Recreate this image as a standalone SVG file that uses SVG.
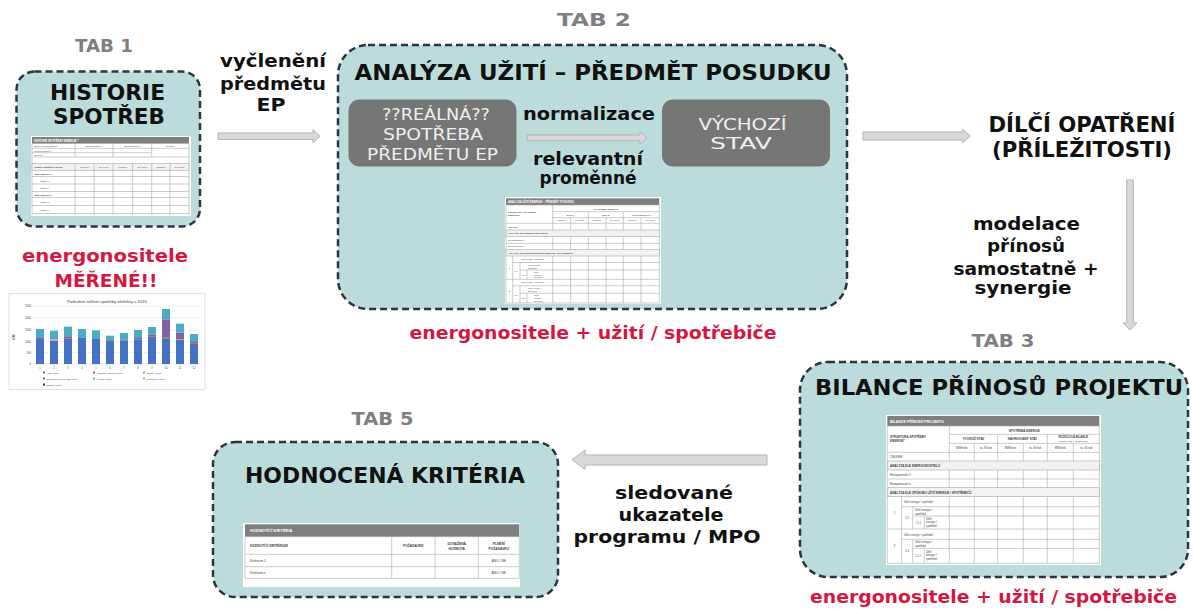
<svg xmlns="http://www.w3.org/2000/svg" width="1193" height="609" viewBox="0 0 1193 609">
<style>
.box{fill:#bcdcdb;stroke:#2b3442;stroke-width:2.5;stroke-dasharray:7 4}
.tab{font-family:'DejaVu Sans',sans-serif;font-weight:bold;font-size:17px;fill:#7f7f7f;text-anchor:middle}
.title{font-family:'DejaVu Sans',sans-serif;font-weight:bold;font-size:21px;fill:#111;text-anchor:middle}
.lbl{font-family:'DejaVu Sans',sans-serif;font-weight:bold;font-size:17px;fill:#111;text-anchor:middle}
.red{font-family:'DejaVu Sans',sans-serif;font-weight:bold;font-size:17px;fill:#d5173f;text-anchor:middle}
.gbox{fill:#767676}
.gtxt{font-family:'DejaVu Sans',sans-serif;font-size:15px;fill:#efefef;text-anchor:middle}
.arr{fill:#d9d9d9;stroke:#b3b3b3;stroke-width:1}
.tw{fill:#fff}
.th{fill:#7f7f7f}
.tl{stroke:#a8a8a8;stroke-width:0.6;fill:none}
.ts{fill:#f2f2f2;stroke:#a8a8a8;stroke-width:0.6}
.tt{font-family:'Liberation Sans',sans-serif;fill:#404040}
.tb{font-family:'Liberation Sans',sans-serif;fill:#404040;font-weight:bold}
.th2{font-family:'Liberation Sans',sans-serif;fill:#fff;font-weight:bold}
.c{text-anchor:middle}
</style>

<!-- TAB 1 -->
<g id="tab1">
  <text class="tab" x="104" y="52" textLength="58" lengthAdjust="spacingAndGlyphs">TAB 1</text>
  <rect class="box" x="16.5" y="71.5" width="183.5" height="155" rx="18"/>
  <text class="title" x="107.5" y="99.5" textLength="115" lengthAdjust="spacingAndGlyphs">HISTORIE</text>
  <text class="title" x="109" y="123.5" textLength="112" lengthAdjust="spacingAndGlyphs">SPOTŘEB</text>
  <g id="tab1-table">
    <rect class="tw" x="31" y="136" width="160" height="80"/>
    <rect class="th" x="32" y="137" width="157" height="6.5"/>
    <text class="th2" x="34" y="141.7" font-size="2.8">HISTORIE SPOTŘEBY ENERGIE *</text>
    <path class="tl" d="M32,143.5H189M32,148.3H189M32,152.7H151.7M32,157H189M75,143.5V157M113,143.5V157M151.7,143.5V157M32,143.5V215M189,143.5V215"/>
    <text class="tt" x="34" y="147" font-size="2.4">Název energonositele</text>
    <text class="tt c" x="94" y="147" font-size="2.4">Energonositel X</text>
    <text class="tt c" x="132.4" y="147" font-size="2.4">Energonositel X</text>
    <text class="tt c" x="170.4" y="147" font-size="2.4">Celkem</text>
    <text class="tt" x="34" y="151.5" font-size="2.4">Cenová úroveň *</text>
    <text class="tt" x="34" y="155.8" font-size="2.4">Ocenění</text>
    <text class="tt c" x="170.4" y="153.5" font-size="2.4">—</text>
    <rect class="ts" x="32" y="163.5" width="157" height="7"/>
    <path class="tl" d="M75,163.5V215M94,163.5V215M113,163.5V215M132.7,163.5V215M151.7,163.5V215M170,163.5V215M32,176.5H189M32,184H189M32,191.5H189M32,197.5H189M32,205.5H189M32,213.5H189"/>
    <text class="tb" x="34" y="168" font-size="2.4">Historie spotřeby energie</text>
    <text class="tt c" x="84.5" y="168" font-size="2.2">MWh/rok</text>
    <text class="tt c" x="103.5" y="168" font-size="2.2">tis. Kč/rok</text>
    <text class="tt c" x="122.8" y="168" font-size="2.2">MWh/rok</text>
    <text class="tt c" x="142.2" y="168" font-size="2.2">tis. Kč/rok</text>
    <text class="tt c" x="160.8" y="168" font-size="2.2">MWh/rok</text>
    <text class="tt c" x="179.5" y="168" font-size="2.2">tis. Kč/rok</text>
    <text class="tb" x="34" y="174.5" font-size="2.4">OBDOBÍ/ROK 1</text>
    <text class="tt" x="40" y="181.5" font-size="2.4">období 1</text>
    <text class="tt" x="40" y="189" font-size="2.4">období x</text>
    <text class="tb" x="34" y="195.5" font-size="2.4">OBDOBÍ/ROK 2</text>
    <text class="tt" x="40" y="203" font-size="2.4">období 1</text>
    <text class="tt" x="40" y="211" font-size="2.4">období x</text>
  </g>
  <text class="red" x="105" y="262" textLength="166" lengthAdjust="spacingAndGlyphs">energonositele</text>
  <text class="red" x="106" y="287" textLength="103" lengthAdjust="spacingAndGlyphs">MĚŘENÉ!!</text>
</g>

<!-- chart -->
<g id="chart-spotreba">
  <rect x="9" y="293.5" width="196" height="96" fill="#fff" stroke="#d9d9d9" stroke-width="0.8"/>
  <text class="tt c" x="107" y="303" font-size="4.2" fill="#595959">Podružné měření spotřeby elektřiny v 2015</text>
  <path stroke="#e3e3e3" stroke-width="0.5" d="M34,306H200M34,318H200M34,330H200M34,341.5H200M34,352.5H200"/>
  <path stroke="#bfbfbf" stroke-width="0.5" d="M34,364H200"/>
  <g class="tt" font-size="2.6" text-anchor="end">
    <text x="31" y="307">2500</text><text x="31" y="319">2000</text><text x="31" y="331">1500</text>
    <text x="31" y="342.5">1000</text><text x="31" y="353.5">500</text><text x="31" y="365">0</text>
  </g>
  <text class="tt" font-size="2.6" transform="translate(14.5,337) rotate(-90)" text-anchor="middle">MWh</text>
  <g id="bars">
    <rect x="36" y="340" width="8" height="24" fill="#4472c4"/><rect x="36" y="338" width="8" height="2" fill="#8064a2"/><rect x="36" y="329" width="8" height="9" fill="#4bacc6"/>
    <rect x="50" y="340.7" width="8" height="23.3" fill="#4472c4"/><rect x="50" y="339.3" width="8" height="1.4" fill="#f79646"/><rect x="50" y="330.7" width="8" height="8.6" fill="#4bacc6"/>
    <rect x="64" y="338.3" width="8" height="25.7" fill="#4472c4"/><rect x="64" y="337" width="8" height="1.3" fill="#c0504d"/><rect x="64" y="326.7" width="8" height="10.3" fill="#4bacc6"/>
    <rect x="78" y="337.3" width="8" height="26.7" fill="#4472c4"/><rect x="78" y="329" width="8" height="8.3" fill="#4bacc6"/>
    <rect x="92" y="339" width="8" height="25" fill="#4472c4"/><rect x="92" y="330.3" width="8" height="8.7" fill="#4bacc6"/>
    <rect x="106" y="342" width="8" height="22" fill="#4472c4"/><rect x="106" y="341" width="8" height="1" fill="#c0504d"/><rect x="106" y="335.7" width="8" height="5.3" fill="#4bacc6"/>
    <rect x="120" y="340.7" width="8" height="23.3" fill="#4472c4"/><rect x="120" y="339.3" width="8" height="1.4" fill="#8064a2"/><rect x="120" y="333" width="8" height="6.3" fill="#4bacc6"/>
    <rect x="134" y="339.3" width="8" height="24.7" fill="#4472c4"/><rect x="134" y="338" width="8" height="1.3" fill="#8064a2"/><rect x="134" y="330" width="8" height="8" fill="#4bacc6"/>
    <rect x="148" y="336.7" width="8" height="27.3" fill="#4472c4"/><rect x="148" y="335" width="8" height="1.7" fill="#c0504d"/><rect x="148" y="327" width="8" height="8" fill="#4bacc6"/>
    <rect x="162" y="338.3" width="8" height="25.7" fill="#4472c4"/><rect x="162" y="337.3" width="8" height="1" fill="#c0504d"/><rect x="162" y="319.3" width="8" height="18" fill="#8064a2"/><rect x="162" y="309" width="8" height="10.3" fill="#4bacc6"/>
    <rect x="176" y="340" width="8" height="24" fill="#4472c4"/><rect x="176" y="339" width="8" height="1" fill="#f79646"/><rect x="176" y="332.7" width="8" height="6.3" fill="#8064a2"/><rect x="176" y="323.7" width="8" height="9" fill="#4bacc6"/>
    <rect x="190" y="343.3" width="8" height="20.7" fill="#4472c4"/><rect x="190" y="342" width="8" height="1.3" fill="#c0504d"/><rect x="190" y="334" width="8" height="8" fill="#4bacc6"/>
  </g>
  <g class="tt c" font-size="2.6">
    <text x="40" y="369">1</text><text x="54" y="369">2</text><text x="68" y="369">3</text><text x="82" y="369">4</text>
    <text x="96" y="369">5</text><text x="110" y="369">6</text><text x="124" y="369">7</text><text x="138" y="369">8</text>
    <text x="152" y="369">9</text><text x="166" y="369">10</text><text x="180" y="369">11</text><text x="194" y="369">12</text>
  </g>
  <g class="tt" font-size="2.4">
    <rect x="43" y="371.5" width="2" height="2" fill="#4472c4"/><text x="46.5" y="373.5">VRS (MWh)</text>
    <rect x="93" y="371.5" width="2" height="2" fill="#c0504d"/><text x="96.5" y="373.5">Administr. budova (MWh)</text>
    <rect x="143" y="371.5" width="2" height="2" fill="#9bbb59"/><text x="146.5" y="373.5">Sklady (MWh)</text>
    <rect x="43" y="377.5" width="2" height="2" fill="#8064a2"/><text x="46.5" y="379.5">Dodávka pro LCC+ES (MWh)</text>
    <rect x="93" y="377.5" width="2" height="2" fill="#4bacc6"/><text x="96.5" y="379.5">Výroba (MWh)</text>
    <rect x="143" y="377.5" width="2" height="2" fill="#f79646"/><text x="146.5" y="379.5">Předávání (MWh)</text>
    <rect x="43" y="383.5" width="2" height="2" fill="#1f3864"/><text x="46.5" y="385.5">Ostatní (MWh)</text>
  </g>
</g>

<!-- TAB 2 -->
<g id="tab2">
  <text class="tab" x="594" y="26" textLength="74" lengthAdjust="spacingAndGlyphs">TAB 2</text>
  <rect class="box" x="338" y="45" width="509" height="264" rx="30"/>
  <text class="title" x="593" y="80" textLength="477" lengthAdjust="spacingAndGlyphs">ANALÝZA UŽITÍ – PŘEDMĚT POSUDKU</text>
  <g id="tab2-table">
    <rect class="tw" x="505" y="197" width="156" height="107"/>
    <rect class="th" x="506" y="198.3" width="153.3" height="6.7"/>
    <text class="th2" x="508" y="202.8" font-size="2.8">ANALÝZA UŽITÍ ENERGIE – PŘEDMĚT POSUDKU</text>
    <path class="tl" d="M506,205V303M659.3,205V303M552.7,205V303M588.3,211.7V303M623.3,211.7V303M570.7,217.7V303M606,217.7V303M641,217.7V303M552.7,211.7H659.3M552.7,217.7H659.3M506,205H659.3M506,223.3H659.3M506,243.3H659.3M506,303H659.3"/>
    <text class="tb" x="508" y="212.5" font-size="2.4">STRUKTURA SPOTŘEBY</text>
    <text class="tb" x="508" y="215.5" font-size="2.4">ENERGIE*</text>
    <text class="tb c" x="606" y="209.5" font-size="2.4">SPOTŘEBA ENERGIE</text>
    <text class="tb c" x="570.5" y="215.5" font-size="2.4">ROK 1</text>
    <text class="tb c" x="605.8" y="215.5" font-size="2.4">ROK 2</text>
    <text class="tb c" x="641.3" y="215.5" font-size="2.4">VÝCHOZÍ STAV ?</text>
    <g class="tt c" font-size="2.1">
      <text x="561.7" y="221.3">MWh/rok</text><text x="579.5" y="221.3">tis. Kč/rok</text>
      <text x="597.2" y="221.3">MWh/rok</text><text x="614.7" y="221.3">tis. Kč/rok</text>
      <text x="632.2" y="221.3">MWh/rok</text><text x="650.2" y="221.3">tis. Kč/rok</text>
    </g>
    <text class="tt" x="508" y="227.5" font-size="2.4">CELKEM</text>
    <rect class="ts" x="506" y="230" width="153.3" height="6.7"/>
    <text class="tb" x="508" y="234.3" font-size="2.4">ANALÝZA DLE ENERGONOSITELŮ</text>
    <text class="tt" x="508" y="241" font-size="2.4">Energonositel 1</text>
    <text class="tt" x="508" y="247.3" font-size="2.4">Energonositel x</text>
    <rect class="ts" x="506" y="249.3" width="153.3" height="6.7"/>
    <text class="tb" x="508" y="253.6" font-size="2.4">ANALÝZA DLE ZPŮSOBU UŽITÍ ENERGIE / SPOTŘEBIČŮ</text>
    <g id="tab2-item1">
      <path class="tl" d="M512.7,256V279.3M520,262.5V279.3M527,270V279.3M512.7,262.5H659.3M520,270H659.3M506,279.3H659.3"/>
      <text class="tt c" x="509.3" y="268.5" font-size="2.4">1</text>
      <text class="tt" x="521" y="260" font-size="2.2">Užití energie / spotřebič</text>
      <text class="tt c" x="516.3" y="272" font-size="2.2">1.1</text>
      <text class="tt" x="528" y="265.5" font-size="2.2">Užití energie /</text>
      <text class="tt" x="528" y="268.5" font-size="2.2">spotřebič</text>
      <text class="tt c" x="523.5" y="275.5" font-size="2">1.1.1</text>
      <text class="tt" x="534" y="272.8" font-size="2.2">Užití</text>
      <text class="tt" x="534" y="275.5" font-size="2.2">energie /</text>
      <text class="tt" x="534" y="278.2" font-size="2.2">spotřebič</text>
    </g>
    <g id="tab2-item2">
      <path class="tl" d="M512.7,279.3V303M520,285.8V303M527,293.3V303M512.7,285.8H659.3M520,293.3H659.3"/>
      <text class="tt c" x="509.3" y="292" font-size="2.4">2</text>
      <text class="tt" x="521" y="283.3" font-size="2.2">Užití energie / spotřebič</text>
      <text class="tt c" x="516.3" y="295.5" font-size="2.2">2.1</text>
      <text class="tt" x="528" y="288.8" font-size="2.2">Užití energie /</text>
      <text class="tt" x="528" y="291.8" font-size="2.2">spotřebič</text>
      <text class="tt c" x="523.5" y="299" font-size="2">2.1.1</text>
      <text class="tt" x="534" y="296.3" font-size="2.2">Užití</text>
      <text class="tt" x="534" y="299" font-size="2.2">energie /</text>
      <text class="tt" x="534" y="301.7" font-size="2.2">spotřebič</text>
    </g>
  </g>
</g>
<g id="tab2-realna">
  <rect class="gbox" x="348.5" y="99.5" width="168" height="67" rx="11"/>
  <text class="gtxt" x="436" y="120" textLength="108" lengthAdjust="spacingAndGlyphs">??REÁLNÁ??</text>
  <text class="gtxt" x="433" y="140" textLength="100" lengthAdjust="spacingAndGlyphs">SPOTŘEBA</text>
  <text class="gtxt" x="432.5" y="160" textLength="131" lengthAdjust="spacingAndGlyphs">PŘEDMĚTU EP</text>
</g>
<g id="tab2-vychozi">
  <rect class="gbox" x="662" y="99.5" width="168" height="67" rx="11"/>
  <text class="gtxt" x="742.5" y="130" textLength="88" lengthAdjust="spacingAndGlyphs">VÝCHOZÍ</text>
  <text class="gtxt" x="741" y="148.5" textLength="62" lengthAdjust="spacingAndGlyphs">STAV</text>
</g>
<text class="red" x="593" y="339" textLength="367" lengthAdjust="spacingAndGlyphs">energonositele + užití / spotřebiče</text>

<!-- Dílčí opatření -->
<g id="opatreni">
  <text class="title" x="1082" y="131.5" textLength="187" lengthAdjust="spacingAndGlyphs">DÍLČÍ OPATŘENÍ</text>
  <text class="title" x="1082" y="156.5" textLength="180" lengthAdjust="spacingAndGlyphs">(PŘÍLEŽITOSTI)</text>
</g>

<!-- TAB 3 -->
<g id="tab3">
  <text class="tab" x="1003" y="346.5" textLength="63" lengthAdjust="spacingAndGlyphs">TAB 3</text>
  <rect class="box" x="800" y="362" width="388" height="215" rx="28"/>
  <text class="title" x="999" y="395" textLength="368" lengthAdjust="spacingAndGlyphs">BILANCE PŘÍNOSŮ PROJEKTU</text>
  <g id="tab3-table">
    <rect class="tw" x="886" y="415" width="215" height="150"/>
    <rect class="th" x="887.3" y="416" width="212" height="10"/>
    <text class="th2" x="890" y="422.5" font-size="3.6">BILANCE PŘÍNOSŮ PROJEKTU</text>
    <path class="tl" d="M887.3,426V563.3M1099.3,426V563.3M949.3,426V563.3M997.7,434.3V563.3M1047.3,434.3V563.3M974.3,443.3V563.3M1023.3,443.3V563.3M1073.3,443.3V563.3M949.3,434.3H1099.3M949.3,443.3H1099.3M887.3,426H1099.3M887.3,452.3H1099.3M887.3,479H1099.3M887.3,563.3H1099.3"/>
    <text class="tb" x="890" y="438" font-size="3">STRUKTURA SPOTŘEBY</text>
    <text class="tb" x="890" y="442" font-size="3">ENERGIE*</text>
    <text class="tb c" x="1024.3" y="431.5" font-size="3">SPOTŘEBA ENERGIE</text>
    <text class="tb c" x="973.5" y="440" font-size="3">VÝCHOZÍ STAV</text>
    <text class="tb c" x="1022.5" y="440" font-size="3">NÁVRHOVANÝ STAV</text>
    <text class="tb c" x="1073.3" y="438.3" font-size="2.8">ROZDÍLOVÁ BILANCE</text>
    <text class="tt c" x="1073.3" y="441.6" font-size="2.2">(návrhový stav – výchozí stav)</text>
    <g class="tt c" font-size="2.8">
      <text x="961.8" y="449">MWh/rok</text><text x="986" y="449">tis. Kč/rok</text>
      <text x="1010.5" y="449">MWh/rok</text><text x="1035.3" y="449">tis. Kč/rok</text>
      <text x="1060.3" y="449">MWh/rok</text><text x="1086.3" y="449">tis. Kč/rok</text>
    </g>
    <text class="tt" x="890" y="458" font-size="3">CELKEM</text>
    <rect class="ts" x="887.3" y="461" width="212" height="9"/>
    <text class="tb" x="890" y="466.8" font-size="3">ANALÝZA DLE ENERGONOSITELŮ</text>
    <text class="tt" x="890" y="476" font-size="3">Energonositel 1</text>
    <text class="tt" x="890" y="484.6" font-size="3">Energonositel x</text>
    <rect class="ts" x="887.3" y="487.7" width="212" height="9"/>
    <text class="tb" x="890" y="493.5" font-size="3">ANALÝZA DLE ZPŮSOBU UŽITÍ ENERGIE / SPOTŘEBIČŮ</text>
    <g id="tab3-item1">
      <path class="tl" d="M901.7,496.7V529M912.7,506.7V529M924.3,516V529M901.7,506.7H1099.3M912.7,516H1099.3M887.3,529H1099.3"/>
      <text class="tt c" x="894.5" y="514" font-size="3">1</text>
      <text class="tt" x="904" y="503" font-size="2.8">Užití energie / spotřebič</text>
      <text class="tt c" x="907.2" y="519" font-size="2.8">1.1</text>
      <text class="tt" x="915" y="510.8" font-size="2.8">Užití energie /</text>
      <text class="tt" x="915" y="514.5" font-size="2.8">spotřebič</text>
      <text class="tt c" x="918.5" y="523.5" font-size="2.6">1.1.1</text>
      <text class="tt" x="926" y="519.8" font-size="2.8">Užití</text>
      <text class="tt" x="926" y="523.3" font-size="2.8">energie /</text>
      <text class="tt" x="926" y="526.8" font-size="2.8">spotřebič</text>
    </g>
    <g id="tab3-item2">
      <path class="tl" d="M901.7,529V563.3M912.7,539.3V563.3M924.3,548.3V563.3M901.7,539.3H1099.3M912.7,548.3H1099.3"/>
      <text class="tt c" x="894.5" y="547" font-size="3">2</text>
      <text class="tt" x="904" y="535.5" font-size="2.8">Užití energie / spotřebič</text>
      <text class="tt c" x="907.2" y="552" font-size="2.8">2.1</text>
      <text class="tt" x="915" y="543.3" font-size="2.8">Užití energie /</text>
      <text class="tt" x="915" y="547" font-size="2.8">spotřebič</text>
      <text class="tt c" x="918.5" y="556.5" font-size="2.6">2.1.1</text>
      <text class="tt" x="926" y="552.5" font-size="2.8">Užití</text>
      <text class="tt" x="926" y="556" font-size="2.8">energie /</text>
      <text class="tt" x="926" y="559.5" font-size="2.8">spotřebič</text>
    </g>
  </g>
</g>
<text class="red" x="993.5" y="603" textLength="367" lengthAdjust="spacingAndGlyphs">energonositele + užití / spotřebiče</text>

<!-- TAB 5 -->
<g id="tab5">
  <text class="tab" x="382.5" y="425" textLength="62" lengthAdjust="spacingAndGlyphs">TAB 5</text>
  <rect class="box" x="213" y="442" width="345" height="155" rx="22"/>
  <text class="title" x="385" y="483" textLength="280" lengthAdjust="spacingAndGlyphs">HODNOCENÁ KRITÉRIA</text>
  <g id="tab5-table">
    <rect class="tw" x="243" y="523" width="277" height="64"/>
    <rect class="th" x="245" y="524.3" width="274.3" height="12.4"/>
    <text class="th2" x="250" y="532.3" font-size="4">HODNOTÍCÍ KRITÉRIA</text>
    <path class="tl" d="M245,536.7H519.3V578.3H245ZM245,554.3H519.3M245,566.7H519.3M391.7,536.7V578.3M435,536.7V578.3M478.3,536.7V578.3"/>
    <text class="tb" x="250" y="547" font-size="3.3">HODNOTÍCÍ KRITÉRIUM</text>
    <text class="tb c" x="413.3" y="547" font-size="3.3">POŽADAVEK</text>
    <text class="tb c" x="456.7" y="544.5" font-size="3.3">DOSAŽENÁ</text>
    <text class="tb c" x="456.7" y="549.5" font-size="3.3">HODNOTA</text>
    <text class="tb c" x="498.8" y="544.5" font-size="3.3">PLNĚNÍ</text>
    <text class="tb c" x="498.8" y="549.5" font-size="3.3">POŽADAVKU</text>
    <text class="tt" x="250" y="561.8" font-size="3.3">Kritérium 1</text>
    <text class="tt c" x="498.8" y="561.8" font-size="3.3">ANO / NE</text>
    <text class="tt" x="250" y="573.8" font-size="3.3">Kritérium x</text>
    <text class="tt c" x="498.8" y="573.8" font-size="3.3">ANO / NE</text>
  </g>
</g>

<!-- connectors -->
<g id="connectors">
  <path class="arr" d="M218,133H313V129.5L320,136.3L313,143V139.5H218Z"/>
  <path class="arr" d="M527,135H640V131.7L647,137.8L640,144V140.7H527Z"/>
  <path class="arr" d="M863,132H963V129.3L970,136L963,142.7V140H863Z"/>
  <path class="arr" d="M1126.7,180V323H1123L1130,330L1137,323H1133.3V180Z"/>
  <path class="arr" d="M767,455H585V450L572,459.7L585,469.3V465H767Z"/>
  <g id="connector-labels">
    <text class="lbl" x="273" y="67" textLength="106" lengthAdjust="spacingAndGlyphs">vyčlenění</text>
    <text class="lbl" x="273" y="89.5" textLength="106" lengthAdjust="spacingAndGlyphs">předmětu</text>
    <text class="lbl" x="271" y="111" textLength="29" lengthAdjust="spacingAndGlyphs">EP</text>
    <text class="lbl" x="589" y="120" textLength="132" lengthAdjust="spacingAndGlyphs">normalizace</text>
    <text class="lbl" x="588" y="165" textLength="110" lengthAdjust="spacingAndGlyphs">relevantní</text>
    <text class="lbl" x="588" y="183.5" textLength="97" lengthAdjust="spacingAndGlyphs">proměnné</text>
    <text class="lbl" x="1026.5" y="230" textLength="107" lengthAdjust="spacingAndGlyphs">modelace</text>
    <text class="lbl" x="1026" y="251.5" textLength="78" lengthAdjust="spacingAndGlyphs">přínosů</text>
    <text class="lbl" x="1026" y="275" textLength="145" lengthAdjust="spacingAndGlyphs">samostatně +</text>
    <text class="lbl" x="1023" y="293.5" textLength="97" lengthAdjust="spacingAndGlyphs">synergie</text>
    <text class="lbl" x="674" y="499" textLength="118" lengthAdjust="spacingAndGlyphs">sledované</text>
    <text class="lbl" x="671" y="521" textLength="105" lengthAdjust="spacingAndGlyphs">ukazatele</text>
    <text class="lbl" x="667" y="543" textLength="187" lengthAdjust="spacingAndGlyphs">programu / MPO</text>
  </g>
</g>
</svg>
